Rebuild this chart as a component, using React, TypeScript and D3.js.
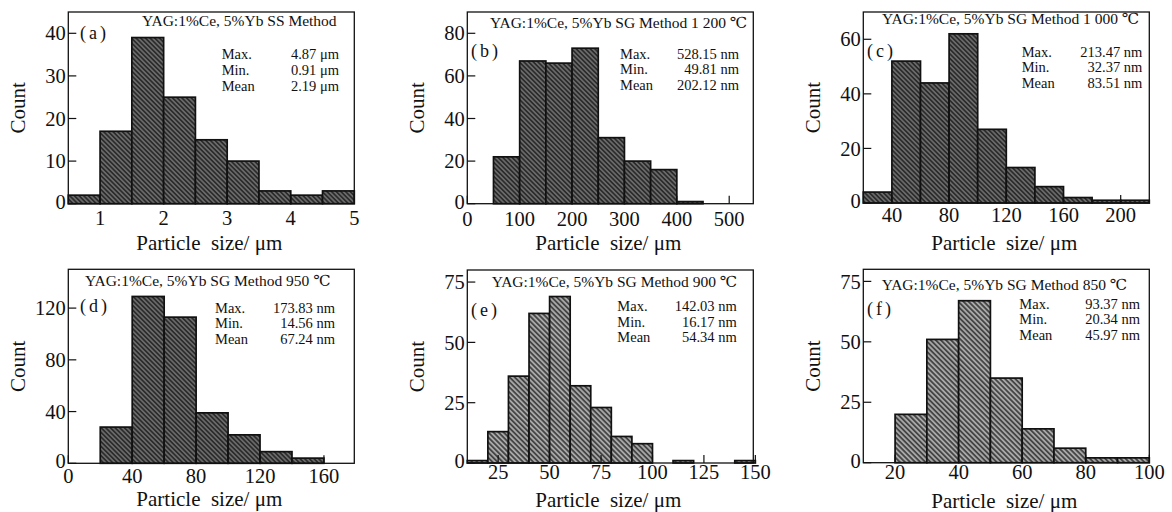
import React from 'react';
import * as d3 from 'd3';

// ---------------- data ----------------
const panelTags = ['(a)', '(b)', '(c)', '(d)', '(e)', '(f)'];
const panelTitles = [
  'YAG:1%Ce, 5%Yb SS Method',
  'YAG:1%Ce, 5%Yb SG Method 1 200 ℃',
  'YAG:1%Ce, 5%Yb SG Method 1 000 ℃',
  'YAG:1%Ce, 5%Yb SG Method 950 ℃',
  'YAG:1%Ce, 5%Yb SG Method 900 ℃',
  'YAG:1%Ce, 5%Yb SG Method 850 ℃',
];
const statNames = ['Max.', 'Min.', 'Mean'];
const statsA = ['4.87 μm', '0.91 μm', '2.19 μm'];
const statsB = ['528.15 nm', '49.81 nm', '202.12 nm'];
const statsC = ['213.47 nm', '32.37 nm', '83.51 nm'];
const statsD = ['173.83 nm', '14.56 nm', '67.24 nm'];
const statsE = ['142.03 nm', '16.17 nm', '54.34 nm'];
const statsF = ['93.37 nm', '20.34 nm', '45.97 nm'];

const edgesA = [0.5, 1, 1.5, 2, 2.5, 3, 3.5, 4, 4.5, 5];
const countsA = [2, 17, 39, 25, 15, 10, 3, 2, 3];
const edgesB = [50, 100, 150, 200, 250, 300, 350, 400, 450];
const countsB = [22, 67, 66, 73, 31, 20, 16, 1];
const edgesC = [20, 40, 60, 80, 100, 120, 140, 160, 180, 200, 220];
const countsC = [4, 52, 44, 62, 27, 13, 6, 2, 1, 1];
const edgesD = [20, 40, 60, 80, 100, 120, 140, 160];
const countsD = [28, 129, 113, 39, 22, 9, 4];
const edgesE = [10, 20, 30, 40, 50, 60, 70, 80, 90, 100, 110, 120, 130, 140, 150];
const countsE = [1, 13, 36, 62, 69, 32, 23, 11, 8, 0, 1, 0, 0, 1];
const edgesF = [20, 30, 40, 50, 60, 70, 80, 90, 100];
const countsF = [20, 51, 67, 35, 14, 6, 2, 2];

const xDomainA = [0.5, 5];
const xDomainB = [0, 546];
const xDomainC = [20, 220];
const xDomainD = [0, 179];
const xDomainE = [10, 149];
const xDomainF = [10, 100];

const yDomainA = [0, 45];
const yDomainB = [0, 90];
const yDomainC = [0, 70];
const yDomainD = [0, 150];
const yDomainE = [0, 80];
const yDomainF = [0, 80];

const xTicksA = [1, 2, 3, 4, 5];
const xTicksB = [0, 100, 200, 300, 400, 500];
const xTicksC = [40, 80, 120, 160, 200];
const xTicksD = [0, 40, 80, 120, 160];
const xTicksE = [25, 50, 75, 100, 125, 150];
const xTicksF = [20, 40, 60, 80, 100];

const yTicksA = [0, 10, 20, 30, 40];
const yTicksB = [0, 20, 40, 60, 80];
const yTicksC = [0, 20, 40, 60];
const yTicksD = [0, 40, 80, 120];
const yTicksE = [0, 25, 50, 75];
const yTicksF = [0, 25, 50, 75];

const xAxisLabel = 'Particle  size/ μm';
const yAxisLabel = 'Count';

// ---------------- layout (positions / styles) ----------------
const FONT = "'Liberation Serif', 'Times New Roman', 'DejaVu Serif', serif";

const layout = [
  { left: 68.3, top: 12, w: 286, bottom: 203.7, pat: 'hatchDark', titleX: 142, titleY: 26, tagX: 80, tagY: 38.5, statX: 221.7, statEnd: 339, statY: 59.3, xlabY: 225, xtitleY: 249.5 },
  { left: 467.3, top: 12, w: 286, bottom: 203.7, pat: 'hatchDark', titleX: 490, titleY: 27.5, tagX: 471, tagY: 57, statX: 620, statEnd: 739, statY: 58.5, xlabY: 226, xtitleY: 249.5 },
  { left: 863.3, top: 12, w: 286, bottom: 203, pat: 'hatchDark', titleX: 882, titleY: 23.5, tagX: 867, tagY: 57, statX: 1021.7, statEnd: 1142.3, statY: 56.5, xlabY: 222, xtitleY: 250 },
  { left: 68.3, top: 269.3, w: 286, bottom: 463.3, pat: 'hatchDark', titleX: 85, titleY: 286, tagX: 80, tagY: 312, statX: 215, statEnd: 335, statY: 312.7, xlabY: 483, xtitleY: 506 },
  { left: 467.3, top: 270, w: 286, bottom: 463, pat: 'hatchLight', titleX: 491.7, titleY: 286.5, tagX: 471, tagY: 316, statX: 617.3, statEnd: 736.7, statY: 311, xlabY: 478.7, xtitleY: 507 },
  { left: 863.3, top: 269.3, w: 286, bottom: 462.7, pat: 'hatchLight', titleX: 881.7, titleY: 289.5, tagX: 867, tagY: 315, statX: 1019.3, statEnd: 1140, statY: 308.7, xlabY: 479.3, xtitleY: 508 },
];

const panels = [
  { edges: edgesA, counts: countsA, xd: xDomainA, yd: yDomainA, xt: xTicksA, yt: yTicksA, stats: statsA },
  { edges: edgesB, counts: countsB, xd: xDomainB, yd: yDomainB, xt: xTicksB, yt: yTicksB, stats: statsB },
  { edges: edgesC, counts: countsC, xd: xDomainC, yd: yDomainC, xt: xTicksC, yt: yTicksC, stats: statsC },
  { edges: edgesD, counts: countsD, xd: xDomainD, yd: yDomainD, xt: xTicksD, yt: yTicksD, stats: statsD },
  { edges: edgesE, counts: countsE, xd: xDomainE, yd: yDomainE, xt: xTicksE, yt: yTicksE, stats: statsE },
  { edges: edgesF, counts: countsF, xd: xDomainF, yd: yDomainF, xt: xTicksF, yt: yTicksF, stats: statsF },
];

const txt = (size: number) => ({ fontFamily: FONT, fontSize: size, fill: '#111' });

function Panel({ i }: { i: number }) {
  const p = panels[i];
  const L = layout[i];
  const x = d3.scaleLinear().domain(p.xd).range([L.left, L.left + L.w]);
  const y = d3.scaleLinear().domain(p.yd).range([L.bottom, L.top]);
  const TICK = 8;
  const cx = L.left + L.w / 2;
  const cy = (L.top + L.bottom) / 2;
  return (
    <g>
      {p.counts.map((c, k) =>
        c > 0 ? (
          <rect
            key={k}
            x={x(p.edges[k])}
            y={y(c)}
            width={x(p.edges[k + 1]) - x(p.edges[k])}
            height={y(0) - y(c)}
            fill={`url(#${L.pat})`}
            stroke="#111"
            strokeWidth={1.7}
          />
        ) : null
      )}
      <rect x={L.left} y={L.top} width={L.w} height={L.bottom - L.top} fill="none" stroke="#111" strokeWidth={1.3} />
      {p.xt.map((t) => (
        <g key={'xt' + t}>
          <line x1={x(t)} x2={x(t)} y1={L.bottom} y2={L.bottom - TICK} stroke="#111" strokeWidth={1.2} />
          <text x={x(t)} y={L.xlabY} textAnchor="middle" style={txt(20.5)}>
            {t}
          </text>
        </g>
      ))}
      {p.yt.map((t) => (
        <g key={'yt' + t}>
          <line x1={L.left} x2={L.left + TICK} y1={y(t)} y2={y(t)} stroke="#111" strokeWidth={1.2} />
          <text x={L.left - 2.5} y={y(t) - (t === 0 ? 2 : 0)} dy="0.35em" textAnchor="end" style={txt(20.5)}>
            {t}
          </text>
        </g>
      ))}
      <text x={L.titleX} y={L.titleY} style={txt(15.5)}>
        {panelTitles[i]}
      </text>
      <text x={L.tagX} y={L.tagY} style={{ ...txt(18), letterSpacing: 3 }}>
        {panelTags[i]}
      </text>
      {statNames.map((s, k) => (
        <g key={'st' + k}>
          <text x={L.statX} y={L.statY + k * 15.7} style={txt(14.5)}>
            {s}
          </text>
          <text x={L.statEnd} y={L.statY + k * 15.7} textAnchor="end" style={txt(14.5)}>
            {p.stats[k]}
          </text>
        </g>
      ))}
      <text x={cx - 2} y={L.xtitleY} textAnchor="middle" style={{ ...txt(21), whiteSpace: 'pre' }}>
        {xAxisLabel}
      </text>
      <text transform={`translate(${L.left - 43},${cy}) rotate(-90)`} textAnchor="middle" style={txt(21)}>
        {yAxisLabel}
      </text>
    </g>
  );
}

export default function App() {
  return (
    <svg
      width={1172}
      height={512}
      style={{ position: 'absolute', left: 0, top: 0, background: '#fff' }}
      xmlns="http://www.w3.org/2000/svg"
    >
      <defs>
        <pattern id="hatchDark" patternUnits="userSpaceOnUse" width={3.3} height={3.3} patternTransform="rotate(-45)">
          <rect width={3.3} height={3.3} fill="#2b2b2b" />
          <line x1={1.65} y1={0} x2={1.65} y2={3.3} stroke="#8a8a8a" strokeWidth={1.1} />
        </pattern>
        <pattern id="hatchLight" patternUnits="userSpaceOnUse" width={3.6} height={3.6} patternTransform="rotate(-45)">
          <rect width={3.6} height={3.6} fill="#454545" />
          <line x1={1.8} y1={0} x2={1.8} y2={3.6} stroke="#c4c4c4" strokeWidth={1.4} />
        </pattern>
      </defs>
      <rect width={1172} height={512} fill="#fff" />
      {panels.map((_, i) => (
        <Panel key={i} i={i} />
      ))}
    </svg>
  );
}
